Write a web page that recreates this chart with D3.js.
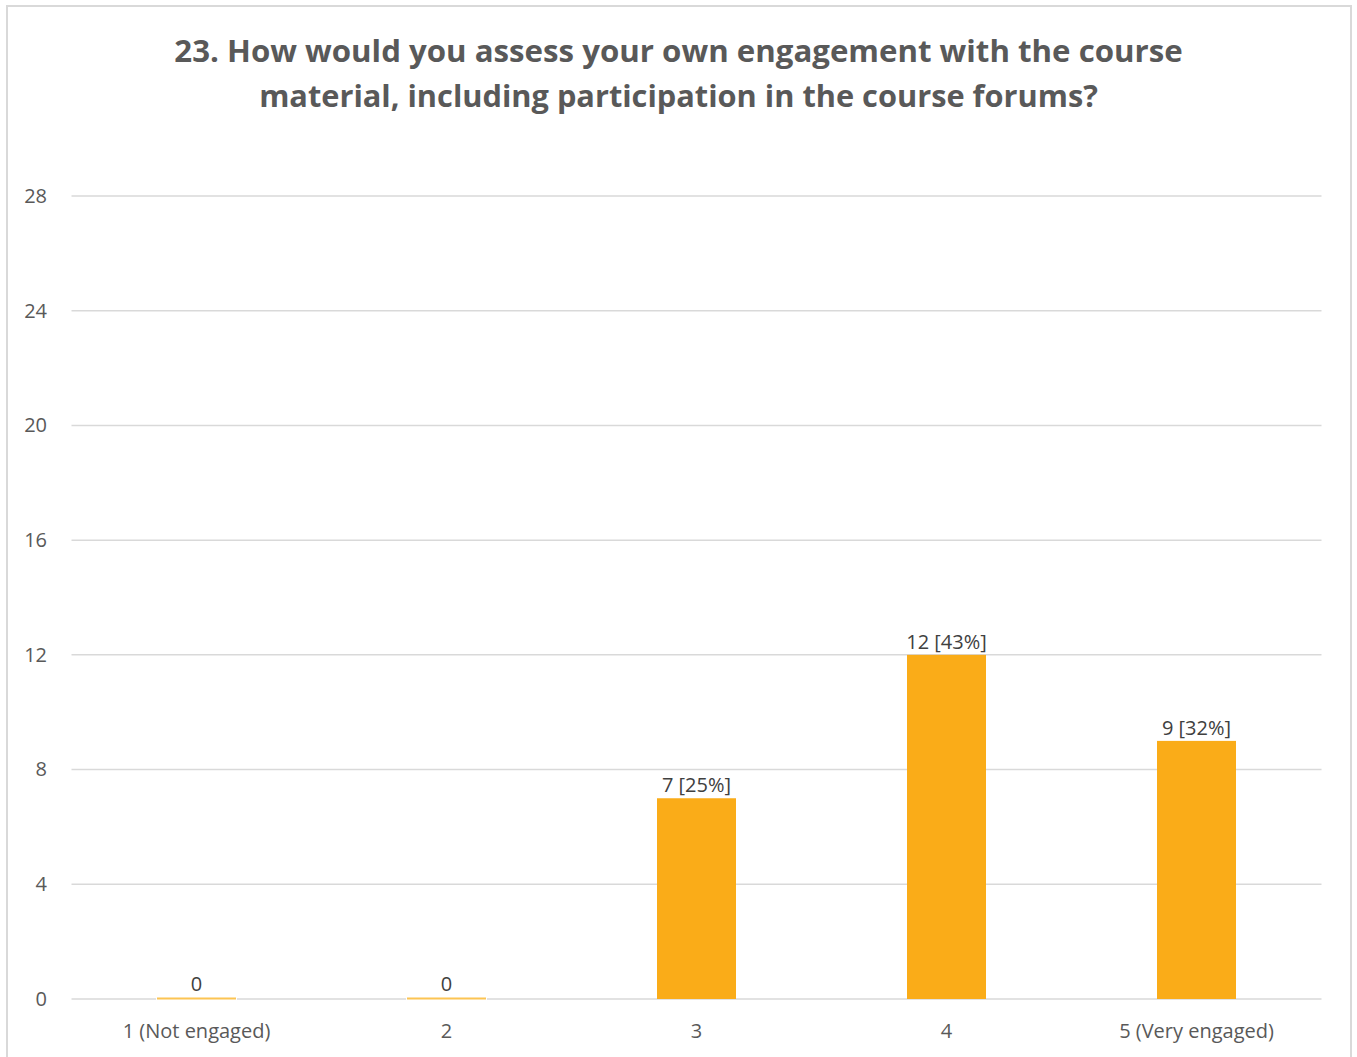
<!DOCTYPE html>
<html>
<head>
<meta charset="utf-8">
<script src="https://cdn.jsdelivr.net/npm/d3@7"></script>
<style>
  html, body { margin: 0; padding: 0; background: #fff; }
  svg { display: block; }
</style>
</head>
<body>
<svg id="chart" width="1357" height="1057"></svg>
<script>
const titleLines = [
  "23. How would you assess your own engagement with the course",
  "material, including participation in the course forums?"
];
const categories = ["1 (Not engaged)", "2", "3", "4", "5 (Very engaged)"];
const counts = [0, 0, 7, 12, 9];
const percents = [null, null, 25, 43, 32];
const yTicks = [0, 4, 8, 12, 16, 20, 24, 28];
const yMax = 28;

(function () {
const svg = d3.select("#chart");
const font = "'Open Sans', 'Noto Sans', sans-serif";
const fsz = 20;

// chart border
svg.append("rect")
  .attr("x", 7).attr("y", 6)
  .attr("width", 1344).attr("height", 1060)
  .attr("fill", "#fff")
  .attr("stroke", "#d9d9d9").attr("stroke-width", 2);

// title
const titleTargets = [1009, 839];
const titleBaselines = [62, 107];
titleLines.forEach((t, i) => {
  const txt = svg.append("text")
    .attr("x", 678.5).attr("y", titleBaselines[i])
    .attr("text-anchor", "middle")
    .attr("font-family", font)
    .attr("font-weight", "bold")
    .attr("font-size", 30)
    .attr("fill", "#595959")
    .text(t);
  const len = txt.node().getComputedTextLength();
  const fs = 30 * titleTargets[i] / len;
  txt.attr("font-size", Math.min(fs, 34));
});

const pLeft = 71.5, pRight = 1321.5, pTop = 196, pBottom = 999;

const x = d3.scaleBand()
  .domain(categories)
  .range([pLeft, pRight])
  .paddingInner(0.684)
  .paddingOuter(0.342);

const y = d3.scaleLinear().domain([0, yMax]).range([pBottom, pTop]);

// gridlines
svg.append("g")
  .selectAll("line")
  .data(yTicks)
  .join("line")
  .attr("x1", pLeft).attr("x2", pRight)
  .attr("y1", d => y(d)).attr("y2", d => y(d))
  .attr("stroke", "#d9d9d9").attr("stroke-width", 1.5);

// y axis labels
const yAxis = d3.axisLeft(y).tickValues(yTicks).tickSize(0).tickPadding(0);
const gy = svg.append("g").attr("transform", `translate(${47},0)`).call(yAxis);
gy.select(".domain").remove();
gy.selectAll("text")
  .attr("font-family", font).attr("font-size", fsz)
  .attr("fill", "#595959");

// x axis labels
const xAxis = d3.axisBottom(x).tickSize(0).tickPadding(0);
const gx = svg.append("g").attr("transform", `translate(0,${1024})`).call(xAxis);
gx.select(".domain").remove();
gx.selectAll("text")
  .attr("font-family", font).attr("font-size", fsz)
  .attr("fill", "#595959");

const data = categories.map((c, i) => ({ cat: c, v: counts[i], p: percents[i] }));

// bars
svg.append("g")
  .selectAll("rect")
  .data(data)
  .join("rect")
  .attr("x", d => x(d.cat))
  .attr("width", x.bandwidth())
  .attr("y", d => d.v > 0 ? y(d.v) : y(0) - 1.5)
  .attr("height", d => d.v > 0 ? y(0) - y(d.v) : 2)
  .attr("fill", d => d.v > 0 ? "#faac18" : "#fcc453")
  .attr("stroke", d => d.v > 0 ? "none" : "#fff")
  .attr("stroke-width", 2)
  .attr("paint-order", "stroke");

// data labels
svg.append("g")
  .selectAll("text")
  .data(data)
  .join("text")
  .attr("x", d => x(d.cat) + x.bandwidth() / 2)
  .attr("y", d => y(d.v) - (d.v > 0 ? 6 : 8))
  .attr("text-anchor", "middle")
  .attr("font-family", font).attr("font-size", fsz)
  .attr("fill", "#404040")
  .text(d => d.p === null ? `${d.v}` : `${d.v} [${d.p}%]`);
})();
</script>
</body>
</html>
